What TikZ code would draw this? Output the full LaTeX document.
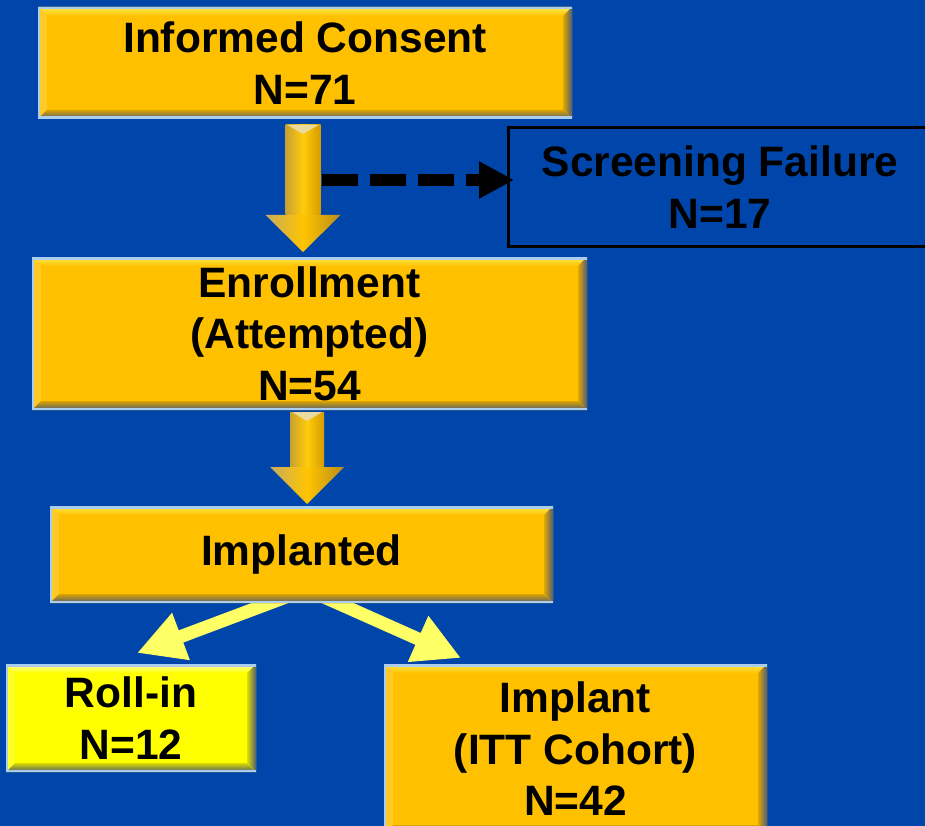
\documentclass[tikz,border=0pt]{standalone}
\usepackage{fontspec}
\setmainfont{Liberation Sans}
\usetikzlibrary{arrows.meta,calc}

\pgfdeclarelayer{bg}
\pgfdeclarelayer{conn}
\pgfsetlayers{bg,conn,main}

\definecolor{slide}{RGB}{0,70,170}
\definecolor{gold}{RGB}{255,192,0}
\definecolor{goldhi}{RGB}{255,236,80}
\definecolor{lemon}{RGB}{255,255,0}
\definecolor{lemonhi}{RGB}{255,255,170}
\definecolor{edgelight}{RGB}{170,205,240}
\definecolor{edgedark}{RGB}{80,92,115}
\definecolor{paleyellow}{RGB}{255,255,102}
\definecolor{shaftleft}{RGB}{200,160,50}
\definecolor{shaftmid}{RGB}{255,204,10}
\definecolor{shaftright}{RGB}{215,155,0}
\definecolor{headleft}{RGB}{200,172,95}
\definecolor{headmid}{RGB}{255,196,0}
\definecolor{headright}{RGB}{185,140,25}
\definecolor{shaftcap}{RGB}{235,218,160}

\newcommand\boxfont{\fontsize{42.5}{51.5}\selectfont\bfseries}

% shaded block arrow pointing down: start point, tip, shaft half width, head half width
\newcommand\blockarrow[4]{%
  \path[left color=shaftleft, right color=shaftright, middle color=shaftmid]
    let \p1=(#1), \p2=(#2) in
    (\x1-#3,\y1) -- (\x1+#3,\y1) -- (\x1+#3,\y2+37pt) -- (\x1-#3,\y2+37pt) -- cycle;
  \path[fill=shaftcap]
    let \p1=(#1) in (\x1-#3+2pt,\y1) -- (\x1+#3-2pt,\y1) -- (\x1,\y1-9pt) -- cycle;
  \path[left color=headleft, right color=headright, middle color=headmid]
    let \p1=(#1), \p2=(#2) in
    (\x1-#4,\y2+37pt) -- (\x1+#4,\y2+37pt) -- (\x1,\y2) -- cycle;
}

\tikzset{
  bevelbox/.style n args={2}{rectangle, inner sep=0pt, outer sep=0pt,
    fill=#1, align=center, text=black, font=\boxfont,
    path picture={
      \coordinate (bNW) at (path picture bounding box.north west);
      \coordinate (bNE) at (path picture bounding box.north east);
      \coordinate (bSW) at (path picture bounding box.south west);
      \coordinate (bSE) at (path picture bounding box.south east);
      \fill[top color=#2, bottom color=#1]
        (bNW) -- (bNE) -- ([shift={(-9pt,-9pt)}]bNE) -- ([shift={(9pt,-9pt)}]bNW) -- cycle;
      \fill[#1!85!white]
        (bNW) -- ([shift={(9pt,-9pt)}]bNW) -- ([shift={(9pt,9pt)}]bSW) -- (bSW) -- cycle;
      \fill[left color=#1!88!black, right color=edgedark]
        (bNE) -- ([shift={(-9pt,-9pt)}]bNE) -- ([shift={(-9pt,9pt)}]bSE) -- (bSE) -- cycle;
      \fill[top color=#1!85!black, bottom color=edgedark]
        (bSW) -- ([shift={(9pt,9pt)}]bSW) -- ([shift={(-9pt,9pt)}]bSE) -- (bSE) -- cycle;
      \fill[edgelight] (bNW) rectangle ([yshift=-2.5pt]bNE);
      \fill[edgelight] (bSW) rectangle ([yshift=2.5pt]bSE);
      \fill[edgelight] (bNW) rectangle ([xshift=2pt]bSW);
    }},
  goldbox/.style={bevelbox={gold}{goldhi}},
  lemonbox/.style={bevelbox={lemon}{lemonhi}},
  outlinebox/.style={rectangle, inner sep=0pt, outer sep=0pt, fill=slide,
    draw=black, line width=3pt, align=center, text=black, font=\boxfont},
  dasharrow/.style={draw=black, line width=12pt, dash pattern=on 36pt off 12pt,
    -{Triangle[length=35pt,width=35pt]}},
  splitarrow/.style={draw=paleyellow, line width=13pt,
    -{Triangle[length=47pt,width=47pt]}}
}

\begin{document}
\begin{tikzpicture}[x=1pt,y=-1pt]
  \useasboundingbox (0,0) rectangle (925,826);
  \clip (0,0) rectangle (925,826);
  \begin{pgfonlayer}{bg}
    \fill[slide] (0,0) rectangle (925,826);
  \end{pgfonlayer}

  % boxes
  \node[goldbox, minimum width=534pt, minimum height=112pt] (consent) at (305,63)
    {Informed Consent\\N=71};
  \node[outlinebox, minimum width=424pt, minimum height=118pt] (screen) at (720,187)
    {Screening Failure\\N=17};
  \node[goldbox, minimum width=555pt, minimum height=153pt] (enroll) at (309.5,333.5)
    {Enrollment\\(Attempted)\\N=54};
  \node[goldbox, minimum width=503pt, minimum height=97pt] (implanted) at (301.5,554.5)
    {Implanted};
  \node[lemonbox, minimum width=250pt, minimum height=108pt] (rollin) at (131,718)
    {Roll-in\\N=12};
  \node[goldbox, minimum width=383pt, minimum height=170pt] (itt) at (575.5,749)
    {Implant\\(ITT Cohort)\\N=42};

  % flow between the stages
  \coordinate (a1top) at ($(consent.south)+(-2,6)$);
  \coordinate (a1tip) at ($(enroll.north)+(0,-5)$);
  \blockarrow{a1top}{a1tip}{17.5pt}{37.5pt}

  \coordinate (a2top) at ($(enroll.south)+(-2.5,2)$);
  \coordinate (a2tip) at ($(implanted.north)+(0,-2)$);
  \blockarrow{a2top}{a2tip}{17pt}{37pt}

  \coordinate (dashstart) at ($(a1top)+(19,55)$);
  \draw[dasharrow] (dashstart) -- ($(screen.west)+(6,-7)$);

  \begin{pgfonlayer}{conn}
    \draw[splitarrow] ($(implanted.south)+(-15.5,-6)$) -- ($(rollin.north)+(6,-11)$);
    \draw[splitarrow] ($(implanted.south)+(22.5,-6)$) -- ($(itt.north west)+(77,-6)$);
  \end{pgfonlayer}
\end{tikzpicture}
\end{document}
